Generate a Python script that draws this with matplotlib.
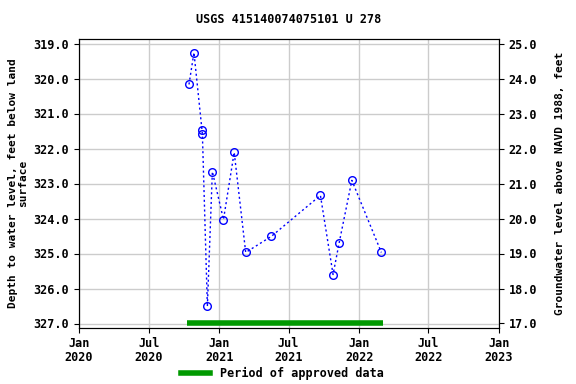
import matplotlib
matplotlib.use("Agg")
import matplotlib.pyplot as plt
import pandas as pd
from matplotlib.lines import Line2D

dates = ["2020-10-14", "2020-10-27", "2020-11-17", "2020-11-18", "2020-12-01",
         "2020-12-14", "2021-01-12", "2021-02-09", "2021-03-11", "2021-05-17",
         "2021-09-22", "2021-10-25", "2021-11-10", "2021-12-13", "2022-02-28"]
depth = [320.17, 319.26, 321.48, 321.59, 326.51, 322.66, 324.03, 322.11, 324.97,
         324.51, 323.34, 325.60, 324.69, 322.91, 324.97]
approved_start = "2020-10-08"
approved_end = "2022-03-03"
datum_offset = 344.0

title = "USGS 415140074075101 U 278"
xtick_dates = ["2020-01-01", "2020-07-01", "2021-01-01", "2021-07-01",
               "2022-01-01", "2022-07-01", "2023-01-01"]
xtick_labels = ["Jan\n2020", "Jul\n2020", "Jan\n2021", "Jul\n2021",
                "Jan\n2022", "Jul\n2022", "Jan\n2023"]
left_ticks = [319, 320, 321, 322, 323, 324, 325, 326, 327]
right_ticks = [25, 24, 23, 22, 21, 20, 19, 18, 17]

plt.rcParams['font.family'] = ['DejaVu Sans Mono']
plt.rcParams['font.weight'] = 'bold'
plt.rcParams['font.size'] = 8.5

fig = plt.figure(figsize=(5.76, 3.84), dpi=100)
ax = fig.add_axes([79/576, 1 - 327.7/384, (499 - 79)/576, (327.7 - 39.3)/384])

d = pd.to_datetime(dates)
ax.plot(d, depth, linestyle=(0, (1.5, 2)), color='blue', linewidth=1,
        marker='o', markersize=5.5, markerfacecolor='none', markeredgecolor='blue',
        markeredgewidth=1)
ax.plot(pd.to_datetime([approved_start, approved_end]), [326.98, 326.98],
        color='#009900', linewidth=4, solid_capstyle='butt')

ax.set_xlim(pd.Timestamp("2020-01-01"), pd.Timestamp("2023-01-01"))
ax.set_ylim(327.12, 318.88)
ax.set_yticks(left_ticks)
ax.set_yticklabels([f"{v:.1f}" for v in left_ticks])
ax.set_xticks(pd.to_datetime(xtick_dates))
ax.set_xticklabels(xtick_labels, linespacing=1.05)
ax.grid(True, color='#cccccc', linewidth=1)
ax.set_axisbelow(True)
ax.set_ylabel("Depth to water level, feet below land\nsurface", fontweight='bold',
              fontsize=8, linespacing=1.0)
ax.set_title(title, fontweight='bold', fontsize=8.5, pad=12)

ax2 = ax.twinx()
ax2.set_ylim(datum_offset - 327.12, datum_offset - 318.88)
ax2.set_yticks(right_ticks)
ax2.set_yticklabels([f"{v:.1f}" for v in right_ticks])
ax2.set_ylabel("Groundwater level above NAVD 1988, feet", fontweight='bold',
               fontsize=8, labelpad=13)

handle = Line2D([0], [0], color='#009900', linewidth=4)
fig.legend([handle], ["Period of approved data"], loc='lower center',
           bbox_to_anchor=(0.49, -0.018), frameon=False, handlelength=2.5)

fig.savefig("out.png", dpi=100)
